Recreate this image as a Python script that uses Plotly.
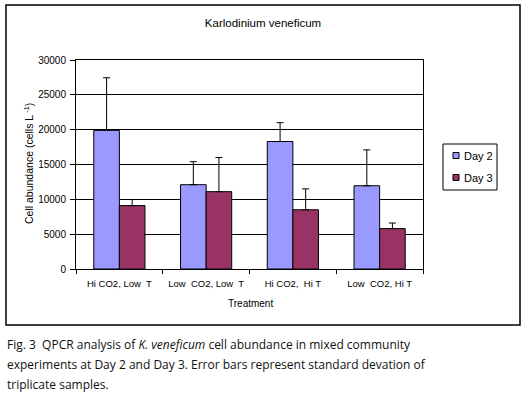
import plotly.graph_objects as go

categories = ["Hi CO2, Low  T", "Low  CO2, Low  T", "Hi CO2,  Hi T", "Low  CO2, Hi T"]
series_names = ["Day 2", "Day 3"]
day2 = [19900, 12100, 18300, 11950]
day2_err = [7550, 3300, 2700, 5150]
day3 = [9100, 11100, 8500, 5800]
day3_err = [870, 4900, 3000, 800]
y_ticks = [0, 5000, 10000, 15000, 20000, 25000, 30000]

W, H = 528, 399
L, R, T, B = 76, 105, 60, 130
pw = W - L - R
ph = H - T - B
colors = ["#9999FF", "#993366"]

def px(x):
    return (x - L) / pw

def py(y):
    return (H - B - y) / ph

fig = go.Figure()
for name, vals, errs, col in zip(series_names, [day2, day3], [day2_err, day3_err], colors):
    fig.add_trace(go.Bar(
        name=name, x=categories, y=vals,
        marker=dict(color=col, line=dict(color="black", width=1)),
        error_y=dict(type="data", array=errs, arrayminus=[0] * len(errs), symmetric=False,
                     color="black", thickness=1, width=3.5),
    ))

axis_font = dict(family="Liberation Sans, Arial", size=10, color="black")

fig.update_layout(
    width=W, height=H,
    margin=dict(l=L, r=R, t=T, b=B, autoexpand=False),
    paper_bgcolor="white", plot_bgcolor="white",
    barmode="group", bargap=0.41, bargroupgap=0,
    showlegend=False,
    title=dict(text="Karlodinium veneficum", x=263 / W, xref="container",
               xanchor="center", y=1 - 23 / H, yanchor="middle",
               font=dict(family="Liberation Sans, Arial", size=11.5, color="black")),
    xaxis=dict(showline=True, linecolor="black", linewidth=1, mirror=True,
               ticks="outside", ticklen=4, tickcolor="black", tickson="boundaries",
               tickfont=dict(family="Liberation Sans, Arial", size=9.5, color="black"),
               showgrid=False, tickangle=0, automargin=False, ticklabelstandoff=6),
    yaxis=dict(range=[0, 30000], tickvals=y_ticks, ticktext=[str(v) for v in y_ticks],
               showline=True, linecolor="black", linewidth=1, mirror=True,
               ticks="outside", ticklen=5, tickcolor="black", automargin=False,
               showgrid=True, gridcolor="black", gridwidth=1,
               tickfont=axis_font, zeroline=False, ticklabelstandoff=2),
)

fig.add_annotation(text="Cell abundance (cells L<sup> -1</sup>)", textangle=-90,
                   x=px(28), y=py(163), xref="paper", yref="paper", showarrow=False,
                   xanchor="center", yanchor="middle",
                   font=dict(family="Liberation Sans, Arial", size=10.5, color="black"))
fig.add_annotation(text="Treatment", x=px(250), y=py(303), xref="paper", yref="paper",
                   xanchor="center", yanchor="middle", showarrow=False,
                   font=dict(family="Liberation Sans, Arial", size=10, color="black"))

# legend (drawn manually to match small swatches)
fig.add_shape(type="rect", xref="paper", yref="paper",
              x0=px(443), x1=px(497), y0=py(190), y1=py(144),
              line=dict(color="black", width=1), fillcolor="white")
for i, (name, col) in enumerate(zip(series_names, colors)):
    yc = 155.5 + 22 * i
    fig.add_shape(type="rect", xref="paper", yref="paper",
                  x0=px(453), x1=px(459), y0=py(yc + 3), y1=py(yc - 3),
                  line=dict(color="black", width=1), fillcolor=col)
    fig.add_annotation(text=name, x=px(462), y=py(yc), xref="paper", yref="paper",
                       xanchor="left", yanchor="middle", showarrow=False,
                       font=dict(family="Liberation Sans, Arial", size=11, color="black"))

# chart frame
fig.add_shape(type="rect", xref="paper", yref="paper",
              x0=px(6), x1=px(520), y0=py(325), y1=py(5),
              line=dict(color="black", width=1.5), layer="below")

cap_font = dict(family="Open Sans, Liberation Sans", size=12, color="#111")
lines = [
    "Fig. 3  QPCR analysis of <i>K. veneficum</i> cell abundance in mixed community",
    "experiments at Day 2 and Day 3. Error bars represent standard devation of",
    "triplicate samples.",
]
for i, t in enumerate(lines):
    fig.add_annotation(text=t, x=px(5), y=py(344 + 20 * i), xref="paper", yref="paper",
                       xanchor="left", yanchor="middle", showarrow=False, font=cap_font)

fig.write_html("out.html", config={"displayModeBar": False},
               post_script="document.body.style.margin='0px';")
